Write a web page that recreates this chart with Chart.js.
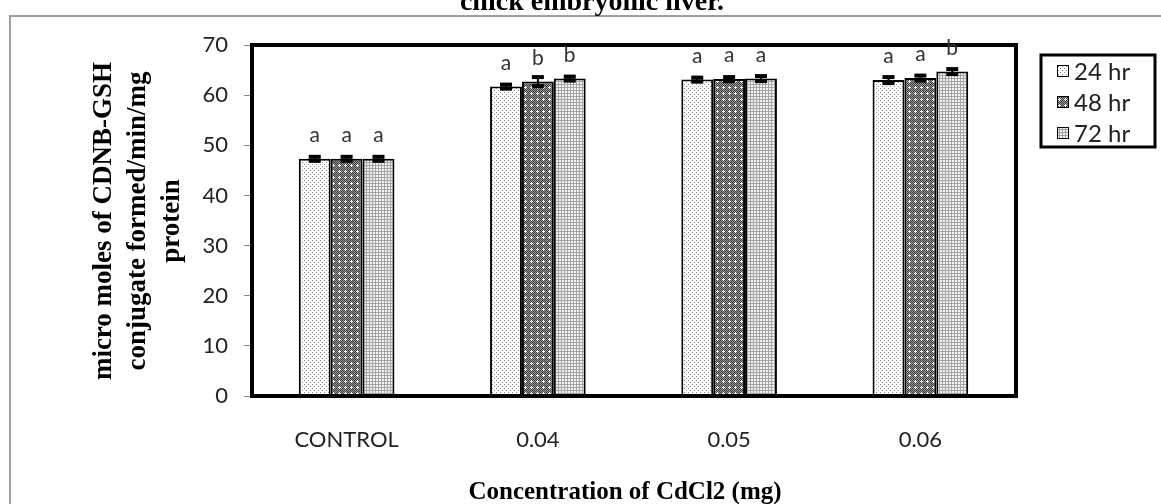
<!DOCTYPE html>
<html>
<head>
<meta charset="utf-8">
<script src="https://cdn.jsdelivr.net/npm/chart.js@4.4.0/dist/chart.umd.min.js"></script>
<style>
  html, body { margin: 0; padding: 0; background: #fff; }
  #wrap { width: 1161px; height: 504px; position: relative; }
</style>
</head>
<body>
<div id="wrap"><canvas id="chart" width="1161" height="504"></canvas></div>
<script>
// chart data
const categories = ['CONTROL', '0.04', '0.05', '0.06'];
const seriesNames = ['24 hr', '48 hr', '72 hr'];
const values24 = [47.3, 61.7, 63.1, 63.0];
const values48 = [47.3, 62.7, 63.2, 63.4];
const values72 = [47.3, 63.3, 63.3, 64.7];
const errors24 = [0.4, 0.4, 0.4, 0.6];
const errors48 = [0.4, 0.9, 0.4, 0.5];
const errors72 = [0.4, 0.4, 0.5, 0.5];
const letters24 = ['a', 'a', 'a', 'a'];
const letters48 = ['a', 'b', 'a', 'a'];
const letters72 = ['a', 'b', 'a', 'b'];
const yMin = 0, yMax = 70, yStep = 10;
const chartTitle = 'chick embryonic liver.';
const yTitleLines = ['micro moles of CDNB-GSH', 'conjugate formed/min/mg', 'protein'];
const xTitle = 'Concentration of CdCl2 (mg)';

document.addEventListener('DOMContentLoaded', () => {
    const canvas = document.getElementById('chart');
    const ctx = canvas.getContext('2d');

    // small hatch tiles, like the Excel pattern fills
    function makePattern(w, h, draw) {
        const c = document.createElement('canvas');
        c.width = w; c.height = h;
        draw(c.getContext('2d'));
        return ctx.createPattern(c, 'repeat');
    }
    const fill24 = makePattern(4, 4, g => {
        g.fillStyle = '#fff'; g.fillRect(0, 0, 4, 4);
        g.fillStyle = '#8a8a8a'; g.fillRect(0, 0, 1, 1); g.fillRect(2, 2, 1, 1);
    });
    const fill48 = makePattern(6, 6, g => {
        for (let x = 0; x < 6; x++) for (let y = 0; y < 6; y++) {
            g.fillStyle = (x + y) % 2 ? '#9a9a9a' : '#3c3c3c';
            g.fillRect(x, y, 1, 1);
        }
        g.fillStyle = '#fff';
        g.fillRect(3, 2, 1, 3); g.fillRect(2, 3, 3, 1);
    });
    const fill72 = makePattern(3, 3, g => {
        g.fillStyle = '#f2f2f2'; g.fillRect(0, 0, 3, 3);
        g.fillStyle = '#a4a4a4'; g.fillRect(0, 0, 3, 1); g.fillRect(0, 0, 1, 3);
    });
    const fills = [fill24, fill48, fill72];
    const errors = [errors24, errors48, errors72];
    const letters = [letters24, letters48, letters72];

    const tickFont = { family: 'Lato', size: 22 };

    const decorations = {
        id: 'decorations',
        afterDatasetsDraw(chart) {
            const { ctx, chartArea: a, scales: { y } } = chart;
            ctx.save();
            // plot frame
            ctx.strokeStyle = '#000';
            ctx.lineWidth = 4;
            ctx.strokeRect(a.left + 1, a.top, a.right - a.left - 1, a.bottom - a.top);

            // error bars + significance letters
            chart.data.datasets.forEach((ds, di) => {
                chart.getDatasetMeta(di).data.forEach((bar, i) => {
                    const v = ds.data[i], e = errors[di][i];
                    const yt = y.getPixelForValue(v + e);
                    const yb = y.getPixelForValue(v - e);
                    ctx.fillStyle = '#000';
                    ctx.fillRect(bar.x - 1, yt, 2, yb - yt);
                    ctx.fillRect(bar.x - 6, yt - 2, 12, 4);
                    ctx.fillRect(bar.x - 6, yb - 2, 12, 4);
                    ctx.fillStyle = '#333';
                    ctx.font = '21px Lato';
                    ctx.textAlign = 'center';
                    ctx.textBaseline = 'alphabetic';
                    ctx.fillText(letters[di][i], bar.x, y.getPixelForValue(v) - 17);
                });
            });
            ctx.restore();
        },
        afterDraw(chart) {
            const ctx = chart.ctx;
            ctx.save();
            // outer gray frame
            ctx.strokeStyle = '#a0a0a0';
            ctx.lineWidth = 2;
            ctx.strokeRect(10, 16, 1200, 600);

            // title (clipped at the top like the source)
            ctx.fillStyle = '#000';
            ctx.font = 'bold 28px "Liberation Serif"';
            ctx.textAlign = 'center';
            ctx.textBaseline = 'alphabetic';
            ctx.fillText(chartTitle, 592, 10);

            // x title
            ctx.font = 'bold 25px "Liberation Serif"';
            ctx.fillText(xTitle, 625, 499);

            // y title, three rotated lines
            ctx.font = 'bold 27px "Liberation Serif"';
            ctx.textBaseline = 'middle';
            yTitleLines.forEach((line, k) => {
                ctx.save();
                ctx.translate(104 + k * 34, 221);
                ctx.rotate(-Math.PI / 2);
                ctx.fillText(line, 0, 0);
                ctx.restore();
            });

            // legend
            const lx = 1041, ly = 55, lw = 114, lh = 92;
            ctx.strokeStyle = '#000';
            ctx.lineWidth = 3;
            ctx.strokeRect(lx, ly, lw, lh);
            ctx.font = '24px Lato';
            ctx.textAlign = 'left';
            ctx.textBaseline = 'middle';
            seriesNames.forEach((name, k) => {
                const cy = ly + 16 + k * 31;
                ctx.fillStyle = fills[k];
                ctx.fillRect(lx + 16, cy - 6, 12, 12);
                ctx.lineWidth = 1;
                ctx.strokeStyle = '#000';
                ctx.strokeRect(lx + 16.5, cy - 5.5, 11, 11);
                ctx.fillStyle = '#222';
                ctx.fillText(name, lx + 33, cy + 1);
            });
            ctx.restore();
        }
    };

    new Chart(ctx, {
        type: 'bar',
        data: {
            labels: categories,
            datasets: [values24, values48, values72].map((vals, k) => ({
                label: seriesNames[k],
                data: vals,
                backgroundColor: fills[k],
                borderColor: '#000',
                borderWidth: 2,
                categoryPercentage: 0.5,
                barPercentage: 1.0
            }))
        },
        options: {
            responsive: false,
            animation: false,
            devicePixelRatio: 1,
            layout: { padding: { left: 0, top: 45, right: 145, bottom: 0 } },
            plugins: {
                legend: { display: false },
                title: { display: false },
                tooltip: { enabled: false }
            },
            scales: {
                x: {
                    grid: { display: false, drawTicks: false },
                    border: { display: false },
                    ticks: { font: tickFont, color: '#222', padding: 31 },
                    afterFit: s => { s.height = 108; }
                },
                y: {
                    min: yMin,
                    max: yMax,
                    ticks: { stepSize: yStep, font: tickFont, color: '#222', padding: 16 },
                    grid: { drawOnChartArea: false, drawTicks: true, tickLength: 7, tickColor: '#888' },
                    border: { display: false },
                    afterFit: s => { s.width = 251; }
                }
            }
        },
        plugins: [decorations]
    });
});
</script>
</body>
</html>
